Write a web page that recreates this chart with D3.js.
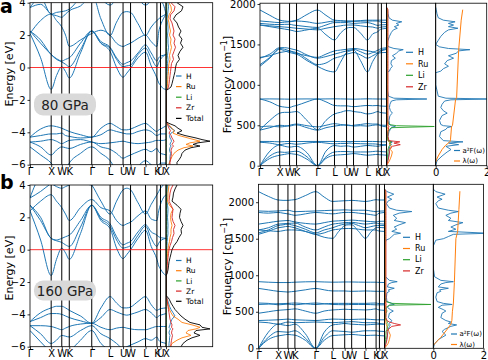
<!DOCTYPE html>
<html>
<head>
<meta charset="utf-8">
<script src="https://cdn.jsdelivr.net/npm/d3@7"></script>
<style>
body { margin: 0; background: #fff; }
svg { font-family: "DejaVu Sans", sans-serif; }
</style>
</head>
<body>
<svg id="fig" width="488" height="360"></svg>
<script>
// k-path (fcc): labels, tick positions and sample points
const kLabels = ['Γ','X','W','K','Γ','L','U','W','L','K','U','X'];
const kTicks = [0, 1, 1.5, 1.854, 2.914, 3.78, 4.392, 4.746, 5.453, 5.99, 6.16, 6.419];
const kPath = [0, 0.5, 1, 1.25, 1.5, 1.677, 1.854, 2.384, 2.914, 3.347, 3.78, 4.086, 4.392, 4.569, 4.746, 5.1, 5.453, 5.72, 5.99, 6.075, 6.16, 6.29, 6.419];

// electronic bands, 80 GPa (eV)
const bands80 = [
  [2.1, 0.6, -1.35, -0.5, 0.05, -0.25, -0.65, 0.9, 2.25, 1.5, 1.0, 0.0, -0.6, -0.35, -0.05, 0.6, 0.95, 0.1, -0.65, -0.95, -1.1, -1.3, -1.35],
  [2.25, 1.5, 0.8, 0.5, 0.35, 0.2, 0.05, 1.1, 2.25, 1.5, 1.2, 0.5, 0.05, 0.1, 0.15, 0.8, 1.2, 0.6, 0.05, 0.3, 0.5, 0.7, 0.8],
  [3.7, 4.3, 3.3, 3.4, 3.45, 3.5, 3.6, 4.3, 4.6, 3.0, 1.97, 2.8, 3.4, 3.45, 3.4, 2.7, 1.97, 2.5, 2.9, 3.0, 3.1, 3.2, 3.3],
  [2.25, 1.7, 0.8, 0.55, 0.4, 0.5, 0.6, 1.5, 2.25, 1.6, 1.25, 0.6, 0.2, 0.3, 0.4, 0.9, 1.4, 0.9, 0.4, 0.6, 0.7, 0.75, 0.8],
  [3.7, 3.9, 3.3, 3.2, 3.1, 3.3, 3.5, 3.8, 4.4, 4.2, 3.85, 4.2, 4.5, 4.5, 4.5, 4.2, 3.85, 4.1, 4.3, 4.2, 4.1, 3.9, 3.3],
  [2.1, 2.9, 3.3, 2.9, 2.5, 2.0, 1.3, 1.7, 2.1, 2.3, 2.0, 1.5, 1.3, 1.4, 1.5, 1.8, 2.0, 1.6, 1.3, 2.2, 2.6, 3.0, 3.3],
  [-4.3, -3.8, -3.6, -3.65, -3.75, -3.85, -3.95, -4.15, -4.3, -3.75, -3.45, -3.65, -3.85, -3.85, -3.8, -3.6, -3.45, -3.7, -3.95, -3.85, -3.8, -3.7, -3.6],
  [-4.3, -4.2, -4.1, -4.1, -4.05, -4.2, -4.25, -4.35, -4.3, -4.15, -3.85, -3.95, -4.05, -4.1, -4.1, -3.95, -3.85, -3.95, -4.2, -4.15, -4.1, -4.1, -4.1],
  [-4.6, -4.55, -4.45, -4.55, -4.7, -4.6, -4.5, -4.45, -4.6, -4.7, -4.65, -4.6, -4.55, -4.6, -4.65, -4.7, -4.65, -4.6, -4.5, -4.5, -4.5, -4.5, -4.45],
  [-4.6, -4.9, -5.4, -5.1, -4.9, -4.95, -5.0, -4.75, -4.6, -4.9, -5.05, -5.3, -5.6, -5.5, -5.4, -5.2, -5.05, -5.2, -5.0, -5.2, -5.3, -5.35, -5.4],
  [-4.9, -5.4, -5.9, -6.3, -6.5, -6.3, -5.9, -5.3, -4.9, -5.3, -5.75, -6.4, -6.8, -6.8, -6.6, -6.1, -5.75, -6.0, -6.2, -6.0, -5.9, -5.9, -5.9]
];

// electronic bands, 160 GPa (eV)
const bands160 = [
  [2.4, 0.6, -1.6, -0.6, 0.1, -0.2, -0.6, 1.0, 2.75, 1.8, 1.3, 0.1, -0.55, -0.3, 0.0, 0.7, 1.2, 0.2, -0.6, -1.0, -1.2, -1.45, -1.6],
  [2.75, 1.8, 0.7, 0.55, 0.45, 0.3, 0.2, 1.4, 2.75, 1.9, 1.45, 0.6, 0.1, 0.15, 0.25, 0.9, 1.45, 0.7, 0.2, 0.4, 0.55, 0.65, 0.7],
  [3.2, 4.4, 4.1, 3.9, 3.8, 3.9, 4.0, 4.5, 4.0, 3.0, 2.2, 3.0, 3.7, 3.8, 3.7, 2.9, 2.2, 2.8, 3.4, 3.6, 3.8, 4.0, 4.1],
  [2.75, 2.0, 0.7, 0.6, 0.7, 0.8, 0.9, 1.8, 2.75, 2.0, 1.6, 0.8, 0.3, 0.4, 0.5, 1.1, 1.55, 1.1, 0.9, 0.8, 0.75, 0.72, 0.7],
  [3.2, 3.6, 4.1, 4.3, 4.5, 4.4, 4.3, 4.2, 4.0, 4.4, 4.6, 4.6, 4.6, 4.6, 4.6, 4.6, 4.6, 4.5, 4.3, 4.2, 4.2, 4.1, 4.1],
  [2.4, 3.0, 3.4, 3.0, 2.6, 2.2, 1.8, 2.6, 3.1, 2.6, 2.4, 1.8, 1.5, 1.6, 1.7, 2.1, 2.4, 1.9, 1.8, 2.4, 2.8, 3.2, 3.4],
  [-4.45, -3.9, -3.6, -3.5, -3.5, -3.6, -3.75, -4.1, -4.55, -3.6, -2.9, -3.3, -3.6, -3.6, -3.55, -3.2, -2.9, -3.4, -3.75, -3.7, -3.65, -3.62, -3.6],
  [-4.45, -4.2, -3.95, -3.95, -4.0, -4.1, -4.2, -4.4, -4.55, -4.2, -3.7, -3.85, -4.0, -4.05, -4.0, -3.85, -3.7, -3.9, -4.2, -4.1, -4.05, -4.0, -3.95],
  [-4.7, -4.7, -4.75, -4.85, -4.95, -4.85, -4.75, -4.6, -4.55, -4.8, -4.95, -4.85, -4.8, -4.85, -4.9, -4.95, -4.95, -4.85, -4.75, -4.75, -4.75, -4.75, -4.75],
  [-4.7, -5.2, -5.8, -5.6, -5.3, -5.35, -5.4, -5.0, -4.7, -5.2, -5.5, -5.8, -6.1, -6.0, -5.9, -5.7, -5.5, -5.6, -5.4, -5.6, -5.7, -5.75, -5.8],
  [-5.0, -5.7, -6.4, -6.8, -7.0, -6.8, -6.4, -5.6, -5.0, -5.8, -6.3, -6.9, -7.3, -7.3, -7.1, -6.6, -6.3, -6.5, -6.7, -6.6, -6.5, -6.45, -6.4]
];

// electronic DOS, 80 GPa
const eDosE80 = [4, 3.75, 3.5, 3.25, 3, 2.75, 2.5, 2.25, 2, 1.75, 1.5, 1.25, 1, 0.75, 0.5, 0.25, 0, -0.25, -0.5, -0.75, -1, -1.2, -1.35, -1.4, -3.35, -3.45, -3.6, -3.75, -3.9, -4.05, -4.2, -4.35, -4.45, -4.55, -4.65, -4.75, -4.85, -4.95, -5.1, -5.3, -5.5, -5.7, -5.85, -6];
const eDosH80 = [0.2, 0.25, 0.2, 0.15, 0.1, 0.15, 0.2, 0.2, 0.15, 0.2, 0.2, 0.25, 0.2, 0.15, 0.2, 0.15, 0.12, 0.12, 0.1, 0.1, 0.08, 0.06, 0.03, 0, 0, 0.1, 0.3, 0.5, 0.9, 0.5, 0.35, 0.4, 0.5, 0.55, 0.45, 0.4, 0.5, 0.4, 0.35, 0.45, 0.4, 0.4, 0.35, 0.3];
const eDosRu80 = [0.3, 0.5, 0.55, 0.3, 0.2, 0.3, 0.35, 0.45, 0.35, 0.5, 0.45, 0.55, 0.45, 0.35, 0.4, 0.3, 0.25, 0.25, 0.2, 0.18, 0.15, 0.12, 0.05, 0, 0, 0.15, 0.4, 0.6, 0.8, 0.7, 1.3, 2.2, 2.8, 3.4, 2.4, 2.0, 2.7, 1.8, 1.2, 0.8, 0.6, 0.45, 0.35, 0.3];
const eDosLi80 = [0.06, 0.08, 0.06, 0.04, 0.03, 0.04, 0.04, 0.05, 0.04, 0.05, 0.04, 0.05, 0.04, 0.03, 0.03, 0.03, 0.02, 0.02, 0.02, 0.02, 0.01, 0.01, 0, 0, 0, 0, 0.01, 0.01, 0.02, 0.01, 0.02, 0.02, 0.03, 0.03, 0.02, 0.02, 0.03, 0.02, 0.02, 0.02, 0.02, 0.02, 0.01, 0.01];
const eDosZr80 = [0.5, 0.9, 0.8, 0.45, 0.4, 0.6, 0.7, 0.8, 0.7, 0.9, 0.8, 0.95, 0.8, 0.65, 0.75, 0.55, 0.5, 0.45, 0.4, 0.35, 0.3, 0.25, 0.1, 0, 0, 0.08, 0.2, 0.3, 0.45, 0.3, 0.5, 0.6, 0.7, 0.8, 0.7, 0.6, 0.75, 0.6, 0.5, 0.55, 0.5, 0.45, 0.4, 0.4];
const eDosTot80 = [1.1, 1.7, 1.55, 1.0, 0.75, 1.1, 1.25, 1.5, 1.3, 1.6, 1.45, 1.7, 1.4, 1.2, 1.35, 1.05, 0.95, 0.9, 0.8, 0.7, 0.6, 0.5, 0.2, 0, 0, 0.3, 0.9, 1.2, 1.6, 1.1, 1.9, 3.0, 3.6, 4.4, 3.2, 2.7, 3.4, 2.5, 1.9, 1.6, 1.5, 1.3, 1.1, 1.1];

// electronic DOS, 160 GPa
const eDosE160 = [4, 3.75, 3.5, 3.25, 3, 2.75, 2.5, 2.25, 2, 1.75, 1.5, 1.25, 1, 0.75, 0.5, 0.25, 0, -0.25, -0.5, -0.75, -1, -1.25, -1.5, -1.6, -2.85, -2.95, -3.1, -3.3, -3.5, -3.7, -3.9, -4.1, -4.3, -4.5, -4.65, -4.8, -4.9, -5.0, -5.15, -5.3, -5.45, -5.6, -5.8, -6];
const eDosH160 = [0.15, 0.12, 0.1, 0.1, 0.1, 0.15, 0.2, 0.18, 0.15, 0.18, 0.2, 0.18, 0.2, 0.15, 0.12, 0.1, 0.08, 0.07, 0.06, 0.05, 0.04, 0.03, 0.02, 0, 0, 0.08, 0.15, 0.25, 0.35, 0.5, 0.7, 0.9, 0.6, 0.45, 0.4, 0.3, 0.45, 0.35, 0.3, 0.4, 0.35, 0.35, 0.3, 0.3];
const eDosRu160 = [0.3, 0.25, 0.2, 0.2, 0.15, 0.35, 0.7, 0.5, 0.45, 0.5, 0.6, 0.5, 0.5, 0.4, 0.35, 0.25, 0.2, 0.15, 0.12, 0.1, 0.08, 0.06, 0.03, 0, 0, 0.05, 0.1, 0.15, 0.25, 0.35, 0.5, 0.7, 1.2, 1.6, 2.6, 3.4, 3.0, 2.2, 2.0, 2.5, 1.6, 1.1, 0.6, 0.4];
const eDosLi160 = [0.06, 0.06, 0.05, 0.05, 0.05, 0.06, 0.06, 0.06, 0.06, 0.06, 0.06, 0.06, 0.06, 0.05, 0.05, 0.05, 0.05, 0.05, 0.05, 0.04, 0.04, 0.04, 0.03, 0, 0, 0, 0.01, 0.01, 0.02, 0.02, 0.03, 0.03, 0.03, 0.03, 0.04, 0.04, 0.04, 0.03, 0.03, 0.03, 0.03, 0.03, 0.02, 0.02];
const eDosZr160 = [0.7, 0.5, 0.4, 0.35, 0.3, 0.5, 0.7, 0.65, 0.6, 0.7, 0.9, 0.75, 0.8, 0.65, 0.55, 0.4, 0.3, 0.25, 0.2, 0.15, 0.12, 0.1, 0.05, 0, 0, 0.05, 0.1, 0.15, 0.2, 0.25, 0.3, 0.35, 0.4, 0.5, 0.6, 0.55, 0.7, 0.6, 0.55, 0.65, 0.6, 0.55, 0.5, 0.5];
const eDosTot160 = [1.1, 0.9, 0.75, 0.7, 0.6, 1.1, 1.5, 1.4, 1.35, 1.5, 1.7, 1.5, 1.55, 1.3, 1.1, 0.8, 0.6, 0.5, 0.4, 0.3, 0.25, 0.2, 0.1, 0, 0, 0.2, 0.35, 0.5, 0.7, 0.9, 1.2, 1.5, 1.9, 2.4, 3.4, 3.6, 4.4, 3.0, 2.8, 3.4, 2.6, 2.1, 1.7, 1.5];

// phonon branches, 80 GPa (cm^-1)
const phon80 = [
  [0, 90, 130, 140, 150, 145, 140, 80, 0, 90, 130, 135, 140, 145, 150, 140, 130, 135, 140, 135, 135, 132, 130],
  [0, 120, 170, 165, 170, 175, 180, 110, 0, 110, 170, 175, 175, 172, 170, 170, 170, 175, 180, 176, 174, 172, 170],
  [0, 180, 255, 240, 230, 235, 240, 160, 0, 180, 250, 240, 245, 240, 230, 240, 250, 245, 240, 245, 248, 252, 255],
  [290, 280, 260, 270, 275, 270, 265, 280, 290, 280, 270, 275, 275, 280, 275, 272, 270, 270, 265, 262, 262, 260, 260],
  [300, 300, 295, 298, 300, 300, 298, 300, 300, 300, 300, 298, 298, 298, 300, 300, 300, 300, 298, 296, 296, 295, 295],
  [440, 470, 500, 495, 490, 500, 505, 470, 440, 470, 490, 500, 505, 500, 490, 495, 490, 500, 505, 502, 502, 500, 500],
  [480, 490, 480, 485, 500, 510, 515, 495, 480, 500, 520, 510, 500, 495, 500, 510, 520, 515, 515, 500, 490, 485, 480],
  [445, 560, 650, 660, 660, 665, 670, 560, 445, 560, 640, 660, 680, 680, 670, 660, 640, 650, 670, 660, 655, 652, 650],
  [825, 790, 735, 725, 720, 735, 745, 790, 825, 790, 745, 740, 740, 735, 730, 738, 745, 742, 745, 740, 738, 736, 735],
  [825, 826, 825, 824, 823, 824, 825, 826, 825, 826, 827, 826, 825, 824, 823, 825, 827, 826, 825, 825, 825, 825, 825],
  [1230, 1330, 1440, 1420, 1400, 1390, 1380, 1300, 1230, 1180, 1160, 1280, 1400, 1420, 1430, 1300, 1160, 1290, 1390, 1410, 1420, 1430, 1440],
  [1250, 1340, 1450, 1440, 1420, 1410, 1400, 1320, 1250, 1270, 1330, 1350, 1380, 1390, 1400, 1370, 1330, 1360, 1400, 1420, 1430, 1440, 1450],
  [1330, 1380, 1460, 1460, 1450, 1440, 1430, 1370, 1330, 1350, 1380, 1400, 1420, 1430, 1440, 1410, 1380, 1400, 1430, 1440, 1450, 1455, 1460],
  [1340, 1360, 1400, 1410, 1420, 1400, 1390, 1360, 1340, 1380, 1420, 1430, 1440, 1445, 1450, 1440, 1420, 1410, 1390, 1395, 1398, 1400, 1400],
  [1740, 1720, 1700, 1690, 1680, 1670, 1660, 1680, 1700, 1620, 1555, 1640, 1700, 1710, 1710, 1640, 1555, 1630, 1660, 1680, 1690, 1695, 1700],
  [1740, 1730, 1720, 1715, 1710, 1705, 1700, 1690, 1680, 1700, 1720, 1730, 1740, 1740, 1740, 1730, 1720, 1715, 1700, 1710, 1715, 1718, 1720],
  [1760, 1750, 1745, 1748, 1750, 1740, 1735, 1720, 1710, 1740, 1770, 1770, 1770, 1765, 1760, 1765, 1770, 1755, 1735, 1740, 1742, 1744, 1745],
  [1926, 1860, 1800, 1790, 1785, 1790, 1800, 1870, 1926, 1860, 1800, 1795, 1790, 1790, 1790, 1795, 1800, 1800, 1800, 1800, 1800, 1800, 1800],
  [1790, 1780, 1770, 1775, 1780, 1785, 1790, 1780, 1760, 1775, 1790, 1790, 1785, 1785, 1785, 1788, 1790, 1790, 1790, 1780, 1775, 1772, 1770]
];

// phonon branches, 160 GPa (cm^-1)
const phon160 = [
  [0, 120, 170, 180, 190, 185, 180, 110, 0, 110, 175, 180, 185, 188, 190, 182, 175, 178, 180, 176, 174, 172, 170],
  [0, 150, 230, 225, 220, 230, 240, 140, 0, 150, 240, 235, 230, 225, 220, 230, 240, 240, 240, 236, 234, 232, 230],
  [0, 220, 330, 320, 310, 320, 330, 200, 0, 220, 320, 330, 340, 335, 330, 325, 320, 325, 330, 330, 330, 330, 330],
  [360, 350, 330, 345, 360, 355, 350, 355, 360, 355, 350, 355, 360, 362, 365, 358, 350, 350, 350, 345, 340, 335, 330],
  [380, 385, 390, 395, 400, 395, 390, 385, 380, 390, 400, 398, 395, 395, 395, 398, 400, 395, 390, 390, 390, 390, 390],
  [480, 500, 520, 525, 530, 535, 540, 510, 480, 510, 525, 530, 535, 532, 530, 528, 525, 530, 540, 530, 525, 522, 520],
  [600, 605, 610, 612, 615, 618, 620, 610, 600, 608, 615, 615, 615, 615, 615, 615, 615, 618, 620, 615, 612, 611, 610],
  [620, 615, 595, 600, 605, 600, 595, 610, 620, 610, 600, 598, 596, 598, 600, 600, 600, 598, 595, 595, 595, 595, 595],
  [820, 800, 780, 775, 770, 775, 780, 800, 820, 800, 785, 785, 785, 782, 780, 782, 785, 783, 780, 780, 780, 780, 780],
  [912, 905, 900, 900, 900, 902, 905, 910, 912, 908, 905, 906, 908, 908, 908, 906, 905, 905, 905, 903, 902, 901, 900],
  [1560, 1600, 1650, 1660, 1670, 1660, 1650, 1600, 1560, 1520, 1505, 1600, 1680, 1690, 1690, 1600, 1505, 1590, 1650, 1655, 1655, 1652, 1650],
  [1580, 1620, 1680, 1690, 1700, 1690, 1680, 1630, 1580, 1620, 1650, 1680, 1700, 1705, 1710, 1680, 1650, 1665, 1680, 1682, 1682, 1681, 1680],
  [1620, 1650, 1700, 1705, 1710, 1712, 1715, 1660, 1620, 1660, 1700, 1710, 1720, 1722, 1725, 1712, 1700, 1708, 1715, 1710, 1705, 1702, 1700],
  [1700, 1720, 1740, 1745, 1750, 1740, 1730, 1710, 1700, 1720, 1740, 1745, 1750, 1752, 1755, 1748, 1740, 1735, 1730, 1735, 1738, 1739, 1740],
  [1860, 1850, 1860, 1850, 1840, 1830, 1820, 1840, 1860, 1850, 1840, 1850, 1860, 1860, 1860, 1850, 1840, 1830, 1820, 1840, 1850, 1855, 1860],
  [1880, 1875, 1880, 1885, 1890, 1880, 1870, 1875, 1880, 1885, 1890, 1892, 1895, 1893, 1890, 1890, 1890, 1880, 1870, 1875, 1878, 1879, 1880],
  [2145, 2080, 2030, 2025, 2025, 2030, 2035, 2090, 2145, 2070, 2010, 2015, 2020, 2022, 2025, 2018, 2010, 2020, 2035, 2032, 2030, 2030, 2030],
  [1620, 1610, 1600, 1610, 1620, 1620, 1620, 1600, 1560, 1580, 1620, 1630, 1640, 1640, 1640, 1630, 1620, 1620, 1620, 1610, 1605, 1602, 1600]
];

// phonon DOS and Eliashberg function, 80 GPa
const pFreq80 = [0, 60, 120, 170, 200, 240, 260, 280, 295, 310, 360, 420, 450, 470, 485, 495, 510, 560, 620, 650, 680, 720, 760, 800, 815, 825, 835, 860, 1000, 1150, 1170, 1200, 1230, 1260, 1300, 1330, 1360, 1390, 1420, 1435, 1450, 1470, 1500, 1550, 1600, 1650, 1680, 1700, 1720, 1740, 1760, 1780, 1800, 1830, 1880, 1930, 1960];
const pDosH80 = [0, 0.02, 0.04, 0.06, 0.05, 0.07, 0.1, 0.08, 0.12, 0.04, 0.03, 0.05, 0.08, 0.1, 0.18, 0.1, 0.06, 0.05, 0.07, 0.12, 0.08, 0.06, 0.07, 0.1, 0.2, 0.82, 0.15, 0.04, 0, 0, 0.06, 0.08, 0.12, 0.09, 0.1, 0.18, 0.12, 0.2, 0.25, 0.34, 0.15, 0.05, 0, 0.03, 0.06, 0.1, 0.14, 0.22, 0.16, 0.25, 0.2, 0.31, 0.12, 0.05, 0.03, 0.02, 0];
const pDosRu80 = [0, 0.06, 0.1, 0.12, 0.08, 0.1, 0.06, 0.08, 0.05, 0.03, 0.02, 0.02, 0.03, 0.02, 0.03, 0.02, 0.02, 0.02, 0.02, 0.02, 0.02, 0.02, 0.02, 0.02, 0.02, 0.03, 0.02, 0.02, 0.02, 0.02, 0.02, 0.02, 0.02, 0.02, 0.02, 0.02, 0.02, 0.02, 0.02, 0.02, 0.02, 0.02, 0.02, 0.02, 0.02, 0.02, 0.02, 0.02, 0.02, 0.02, 0.02, 0.02, 0.02, 0.02, 0.02, 0.02, 0];
const pDosLi80 = [0, 0.01, 0.02, 0.03, 0.03, 0.05, 0.08, 0.06, 0.1, 0.03, 0.02, 0.03, 0.06, 0.1, 0.97, 0.2, 0.05, 0.02, 0.01, 0.01, 0.01, 0.01, 0.01, 0.01, 0.01, 0.01, 0.01, 0.01, 0.01, 0.01, 0.01, 0.01, 0.01, 0.01, 0.01, 0.01, 0.01, 0.01, 0.01, 0.01, 0.01, 0.01, 0.01, 0.01, 0.01, 0.01, 0.01, 0.01, 0.01, 0.01, 0.01, 0.01, 0.01, 0.01, 0.01, 0.01, 0];
const pDosZr80 = [0, 0.03, 0.05, 0.06, 0.05, 0.12, 0.28, 0.15, 0.27, 0.05, 0.03, 0.03, 0.04, 0.04, 0.05, 0.04, 0.03, 0.03, 0.03, 0.03, 0.03, 0.03, 0.03, 0.03, 0.03, 0.03, 0.03, 0.03, 0.03, 0.03, 0.03, 0.03, 0.03, 0.03, 0.03, 0.03, 0.03, 0.03, 0.03, 0.03, 0.03, 0.03, 0.03, 0.03, 0.03, 0.03, 0.03, 0.03, 0.03, 0.03, 0.03, 0.03, 0.03, 0.03, 0.03, 0.03, 0];
const a2F80 = [0, 0.05, 0.25, 0.45, 0.6, 0.4, 0.9, 0.5, 1.07, 0.3, 0.15, 0.2, 0.4, 0.45, 0.63, 0.3, 0.2, 0.15, 0.25, 0.45, 0.3, 0.2, 0.25, 0.35, 0.6, 2.2, 0.4, 0.1, 0, 0, 0.2, 0.3, 0.5, 0.35, 0.45, 0.7, 0.5, 0.8, 0.9, 1.34, 0.5, 0.15, 0, 0.1, 0.2, 0.35, 0.5, 0.87, 0.5, 0.7, 0.5, 0.76, 0.3, 0.1, 0.05, 0.02, 0];
const lamFreq80 = [40, 80, 120, 200, 250, 280, 300, 320, 480, 500, 820, 840, 1430, 1800, 1930];
const lam80 = [0, 0.04, 0.1, 0.25, 0.38, 0.5, 0.56, 0.58, 0.62, 0.66, 0.78, 0.82, 0.9, 1.0, 1.06];

// phonon DOS and Eliashberg function, 160 GPa
const pFreq160 = [0, 60, 120, 180, 230, 260, 300, 320, 340, 360, 380, 420, 480, 510, 530, 560, 590, 600, 615, 640, 700, 760, 780, 800, 822, 840, 880, 900, 912, 930, 980, 1100, 1400, 1480, 1500, 1530, 1560, 1575, 1600, 1630, 1660, 1690, 1720, 1750, 1780, 1820, 1850, 1872, 1890, 1920, 1980, 2020, 2040, 2070, 2110, 2145, 2180];
const pDosH160 = [0, 0.02, 0.04, 0.06, 0.07, 0.08, 0.1, 0.12, 0.09, 0.13, 0.15, 0.08, 0.1, 0.18, 0.12, 0.06, 0.1, 0.2, 0.15, 0.05, 0.04, 0.05, 0.1, 0.08, 0.2, 0.06, 0.08, 0.15, 0.26, 0.1, 0.02, 0, 0, 0.03, 0.1, 0.15, 0.2, 0.33, 0.15, 0.25, 0.2, 0.3, 0.43, 0.2, 0.25, 0.18, 0.3, 0.56, 0.25, 0.1, 0.04, 0.08, 0.15, 0.06, 0.19, 0.05, 0];
const pDosRu160 = [0, 0.07, 0.1, 0.12, 0.09, 0.06, 0.05, 0.04, 0.03, 0.03, 0.02, 0.02, 0.02, 0.02, 0.02, 0.02, 0.02, 0.03, 0.02, 0.02, 0.02, 0.02, 0.02, 0.02, 0.02, 0.02, 0.02, 0.02, 0.02, 0.02, 0.02, 0.02, 0.02, 0.02, 0.02, 0.02, 0.02, 0.02, 0.02, 0.02, 0.02, 0.02, 0.02, 0.02, 0.02, 0.02, 0.02, 0.02, 0.02, 0.02, 0.02, 0.02, 0.02, 0.02, 0.02, 0.02, 0];
const pDosLi160 = [0, 0.01, 0.02, 0.03, 0.03, 0.05, 0.06, 0.08, 0.05, 0.06, 0.04, 0.02, 0.03, 0.05, 0.04, 0.03, 0.1, 0.95, 0.15, 0.03, 0.01, 0.01, 0.01, 0.01, 0.01, 0.01, 0.01, 0.01, 0.01, 0.01, 0.01, 0.01, 0.01, 0.01, 0.01, 0.01, 0.01, 0.01, 0.01, 0.01, 0.01, 0.01, 0.01, 0.01, 0.01, 0.01, 0.01, 0.01, 0.01, 0.01, 0.01, 0.01, 0.01, 0.01, 0.01, 0.01, 0];
const pDosZr160 = [0, 0.03, 0.05, 0.06, 0.05, 0.08, 0.15, 0.33, 0.2, 0.1, 0.05, 0.03, 0.03, 0.03, 0.03, 0.03, 0.03, 0.03, 0.03, 0.03, 0.03, 0.03, 0.03, 0.03, 0.03, 0.03, 0.03, 0.03, 0.03, 0.03, 0.03, 0.03, 0.03, 0.03, 0.03, 0.03, 0.03, 0.03, 0.03, 0.03, 0.03, 0.03, 0.03, 0.03, 0.03, 0.03, 0.03, 0.03, 0.03, 0.03, 0.03, 0.03, 0.03, 0.03, 0.03, 0.03, 0];
const a2F160 = [0, 0.05, 0.2, 0.5, 0.35, 0.45, 0.7, 0.93, 0.6, 0.7, 0.5, 0.3, 0.35, 0.5, 0.4, 0.2, 0.35, 0.75, 0.4, 0.15, 0.1, 0.15, 0.3, 0.25, 0.6, 0.2, 0.3, 0.5, 0.8, 0.3, 0.05, 0, 0, 0.1, 0.4, 0.6, 0.8, 2.2, 0.6, 0.9, 0.7, 0.9, 1.18, 0.6, 0.7, 0.5, 0.7, 1.0, 0.6, 0.2, 0.1, 0.2, 0.35, 0.15, 0.47, 0.1, 0];
const lamFreq160 = [40, 60, 150, 250, 330, 380, 500, 620, 900, 1500, 1600, 1900, 2150];
const lam160 = [0, 0.05, 0.3, 0.53, 0.7, 0.74, 0.76, 0.8, 0.84, 0.9, 0.97, 1.02, 1.06];

const species = ['H', 'Ru', 'Li', 'Zr'];
const colors = {H: '#1f77b4', Ru: '#ff7f0e', Li: '#2ca02c', Zr: '#d62728', Total: '#000000'};

const svg = d3.select('#fig');

class BandPanel {
    constructor(config) {
        this.config = config;
        this.init();
        this.render();
    }

    init() {
        let self = this;
        let c = self.config;
        self.g = svg.append('g').attr('transform', `translate(${c.left},${c.top})`);
        self.xscale = d3.scaleLinear().domain([0, kTicks[kTicks.length - 1]]).range([0, c.width]);
        self.yscale = d3.scaleLinear().domain([-6, 4]).range([c.height, 0]);
        self.dscale = d3.scaleLinear().domain([0, 4.67]).range([c.width, c.width + c.dosWidth]);

        const defs = self.g.append('defs');
        defs.append('clipPath').attr('id', c.id + 'b')
            .append('rect').attr('width', c.width).attr('height', c.height);
        defs.append('clipPath').attr('id', c.id + 'd')
            .append('rect').attr('x', c.width).attr('width', c.dosWidth).attr('height', c.height);
    }

    render() {
        let self = this;
        let c = self.config;

        const bandLine = d3.line()
            .x((d, i) => self.xscale(kPath[i]))
            .y(d => self.yscale(d))
            .curve(d3.curveMonotoneX);

        self.g.append('g').attr('clip-path', `url(#${c.id}b)`)
            .selectAll('path').data(c.bands).join('path')
            .attr('d', bandLine)
            .attr('fill', 'none').attr('stroke', '#1f77b4').attr('stroke-width', 1);

        // high-symmetry lines
        self.g.selectAll('line.hs').data(kTicks.slice(1, -1)).join('line')
            .attr('class', 'hs')
            .attr('x1', d => self.xscale(d)).attr('x2', d => self.xscale(d))
            .attr('y1', 0).attr('y2', c.height)
            .attr('stroke', '#000').attr('stroke-width', 1);

        // Fermi level
        self.g.append('line')
            .attr('x1', 0).attr('x2', c.width + c.dosWidth)
            .attr('y1', self.yscale(0)).attr('y2', self.yscale(0))
            .attr('stroke', '#ff0000').attr('stroke-width', 0.8);

        const dosLine = d3.line()
            .x(d => self.dscale(d))
            .y((d, i) => self.yscale(c.dosE[i]));

        const dosG = self.g.append('g').attr('clip-path', `url(#${c.id}d)`);
        species.concat(['Total']).forEach(s => {
            dosG.append('path').datum(c.dos[s])
                .attr('d', dosLine)
                .attr('fill', 'none').attr('stroke', colors[s]).attr('stroke-width', 0.9);
        });

        // frames
        self.g.append('rect').attr('width', c.width).attr('height', c.height)
            .attr('fill', 'none').attr('stroke', '#000').attr('stroke-width', 0.8);
        self.g.append('rect').attr('x', c.width).attr('width', c.dosWidth).attr('height', c.height)
            .attr('fill', 'none').attr('stroke', '#000').attr('stroke-width', 0.8);

        const yaxis = d3.axisLeft(self.yscale).tickValues([-6, -4, -2, 0, 2, 4])
            .tickSize(2.5).tickPadding(2).tickFormat(d3.format('d'));
        const yg = self.g.append('g').call(yaxis);
        yg.select('.domain').remove();

        const xaxis = d3.axisBottom(self.xscale).tickValues(kTicks)
            .tickSize(2.5).tickPadding(1).tickFormat((d, i) => kLabels[i]);
        const xg = self.g.append('g').attr('transform', `translate(0,${c.height})`).call(xaxis);
        xg.select('.domain').remove();

        [yg, xg].forEach(a => {
            a.attr('font-family', '"DejaVu Sans", sans-serif').attr('font-size', 10);
            a.selectAll('line').attr('stroke-width', 0.8);
            a.selectAll('text').attr('fill', '#000');
        });

        // legend
        const leg = self.g.append('g')
            .attr('transform', `translate(${c.legX - c.left},${c.legY - c.top})`);
        species.concat(['Total']).forEach((s, i) => {
            leg.append('line').attr('x1', 0).attr('x2', 5.5)
                .attr('y1', i * c.legStep).attr('y2', i * c.legStep)
                .attr('stroke', colors[s]).attr('stroke-width', 1.2);
            leg.append('text').attr('x', 10).attr('y', i * c.legStep)
                .attr('dy', '0.35em').attr('font-size', 7.5).text(s);
        });
    }
}

class PhononPanel {
    constructor(config) {
        this.config = config;
        this.init();
        this.render();
    }

    init() {
        let self = this;
        let c = self.config;
        self.g = svg.append('g').attr('transform', `translate(${c.left},${c.top})`);
        self.x0 = c.width + c.dosWidth;
        self.xscale = d3.scaleLinear().domain([0, kTicks[kTicks.length - 1]]).range([0, c.width]);
        self.yscale = d3.scaleLinear().domain([0, c.fmax]).range([c.height, 0]);
        self.pscale = d3.scaleLinear().domain([0, 1]).range([c.width, self.x0]);
        self.ascale = d3.scaleLinear().domain([0, 2]).range([self.x0, self.x0 + c.a2fWidth]);

        const defs = self.g.append('defs');
        defs.append('clipPath').attr('id', c.id + 'p')
            .append('rect').attr('width', c.width).attr('height', c.height);
        defs.append('clipPath').attr('id', c.id + 'q')
            .append('rect').attr('x', c.width).attr('width', c.dosWidth).attr('height', c.height);
        defs.append('clipPath').attr('id', c.id + 'r')
            .append('rect').attr('x', self.x0).attr('width', c.a2fWidth).attr('height', c.height);
    }

    render() {
        let self = this;
        let c = self.config;

        const branchLine = d3.line()
            .x((d, i) => self.xscale(kPath[i]))
            .y(d => self.yscale(d))
            .curve(d3.curveMonotoneX);

        self.g.append('g').attr('clip-path', `url(#${c.id}p)`)
            .selectAll('path').data(c.branches).join('path')
            .attr('d', branchLine)
            .attr('fill', 'none').attr('stroke', '#1f77b4').attr('stroke-width', 1);

        self.g.selectAll('line.hs').data(kTicks.slice(1, -1)).join('line')
            .attr('class', 'hs')
            .attr('x1', d => self.xscale(d)).attr('x2', d => self.xscale(d))
            .attr('y1', 0).attr('y2', c.height)
            .attr('stroke', '#000').attr('stroke-width', 1);

        const dosLine = d3.line()
            .x(d => self.pscale(d))
            .y((d, i) => self.yscale(c.freq[i]));
        const dosG = self.g.append('g').attr('clip-path', `url(#${c.id}q)`);
        species.forEach(s => {
            dosG.append('path').datum(c.dos[s])
                .attr('d', dosLine)
                .attr('fill', 'none').attr('stroke', colors[s]).attr('stroke-width', 0.9);
        });

        const aG = self.g.append('g').attr('clip-path', `url(#${c.id}r)`);
        aG.append('path').datum(c.a2F)
            .attr('d', d3.line().x(d => self.ascale(d)).y((d, i) => self.yscale(c.freq[i])))
            .attr('fill', 'none').attr('stroke', colors.H).attr('stroke-width', 0.9);
        aG.append('path').datum(c.lam)
            .attr('d', d3.line().x(d => self.ascale(d)).y((d, i) => self.yscale(c.lamFreq[i])))
            .attr('fill', 'none').attr('stroke', colors.Ru).attr('stroke-width', 1);

        [[0, c.width], [c.width, c.dosWidth], [self.x0, c.a2fWidth]].forEach(r => {
            self.g.append('rect').attr('x', r[0]).attr('width', r[1]).attr('height', c.height)
                .attr('fill', 'none').attr('stroke', '#000').attr('stroke-width', 0.8);
        });

        const yaxis = d3.axisLeft(self.yscale).tickValues([0, 500, 1000, 1500, 2000])
            .tickSize(2.5).tickPadding(2).tickFormat(d3.format('d'));
        const yg = self.g.append('g').call(yaxis);
        yg.select('.domain').remove();

        const xaxis = d3.axisBottom(self.xscale).tickValues(kTicks)
            .tickSize(2.5).tickPadding(1).tickFormat((d, i) => kLabels[i]);
        const xg = self.g.append('g').attr('transform', `translate(0,${c.height})`).call(xaxis);
        xg.select('.domain').remove();

        const aaxis = d3.axisBottom(self.ascale).tickValues([0, 2])
            .tickSize(2.5).tickPadding(1).tickFormat(d3.format('d'));
        const ag = self.g.append('g').attr('transform', `translate(0,${c.height})`).call(aaxis);
        ag.select('.domain').remove();

        [yg, xg, ag].forEach(a => {
            a.attr('font-family', '"DejaVu Sans", sans-serif').attr('font-size', 10);
            a.selectAll('line').attr('stroke-width', 0.8);
            a.selectAll('text').attr('fill', '#000');
        });

        // species legend
        const leg = self.g.append('g')
            .attr('transform', `translate(${c.legX - c.left},${c.legY - c.top})`);
        species.forEach((s, i) => {
            leg.append('line').attr('x1', 0).attr('x2', 7)
                .attr('y1', i * c.legStep).attr('y2', i * c.legStep)
                .attr('stroke', colors[s]).attr('stroke-width', 1.2);
            leg.append('text').attr('x', 12).attr('y', i * c.legStep)
                .attr('dy', '0.35em').attr('font-size', 8).text(s);
        });

        // a2F legend
        const leg2 = self.g.append('g')
            .attr('transform', `translate(${c.leg2X - c.left},${c.leg2Y - c.top})`);
        [['a²F(ω)', colors.H], ['λ(ω)', colors.Ru]].forEach((e, i) => {
            leg2.append('line').attr('x1', 0).attr('x2', 6)
                .attr('y1', i * 10.5).attr('y2', i * 10.5)
                .attr('stroke', e[1]).attr('stroke-width', 1.2);
            leg2.append('text').attr('x', 8.5).attr('y', i * 10.5)
                .attr('dy', '0.35em').attr('font-size', 7).text(e[0]);
        });
    }
}

new BandPanel({
    id: 'ea', left: 30, top: 2.7, width: 136, dosWidth: 46.7, height: 162,
    bands: bands80, dosE: eDosE80,
    dos: {H: eDosH80, Ru: eDosRu80, Li: eDosLi80, Zr: eDosZr80, Total: eDosTot80},
    legX: 176, legY: 76, legStep: 10.6
});
new BandPanel({
    id: 'eb', left: 30, top: 185, width: 136, dosWidth: 46.7, height: 161.7,
    bands: bands160, dosE: eDosE160,
    dos: {H: eDosH160, Ru: eDosRu160, Li: eDosLi160, Zr: eDosZr160, Total: eDosTot160},
    legX: 176, legY: 260.5, legStep: 10.2
});
new PhononPanel({
    id: 'pa', left: 260, top: 3.2, width: 126.5, dosWidth: 49.2, a2fWidth: 51, height: 162.5, fmax: 2010,
    branches: phon80, freq: pFreq80,
    dos: {H: pDosH80, Ru: pDosRu80, Li: pDosLi80, Zr: pDosZr80},
    a2F: a2F80, lam: lam80, lamFreq: lamFreq80,
    legX: 406, legY: 52.3, legStep: 11.5, leg2X: 454, leg2Y: 150.5
});
new PhononPanel({
    id: 'pb', left: 258.5, top: 184.3, width: 126, dosWidth: 48.8, a2fWidth: 50.2, height: 164, fmax: 2245,
    branches: phon160, freq: pFreq160,
    dos: {H: pDosH160, Ru: pDosRu160, Li: pDosLi160, Zr: pDosZr160},
    a2F: a2F160, lam: lam160, lamFreq: lamFreq160,
    legX: 403, legY: 237.3, legStep: 11.2, leg2X: 451, leg2Y: 334
});

// pressure tags
[{x: 34, y: 93.5, h: 22, yt: 110, t: '80 GPa'}, {x: 34, y: 280.5, h: 20, yt: 295.5, t: '160 GPa'}].forEach(p => {
    svg.append('rect').attr('x', p.x).attr('y', p.y).attr('width', 62).attr('height', p.h)
        .attr('rx', 9).attr('fill', '#d9d9d9');
    svg.append('text').attr('x', p.x + 31).attr('y', p.yt).attr('text-anchor', 'middle')
        .attr('font-size', 13.5).attr('fill', '#222').text(p.t);
});

// panel letters
svg.append('text').attr('x', 0).attr('y', 13).attr('font-size', 19).attr('font-weight', 'bold').text('a');
svg.append('text').attr('x', 0).attr('y', 189).attr('font-size', 19).attr('font-weight', 'bold').text('b');

// axis titles
[74, 268].forEach(cy => {
    svg.append('text').attr('transform', `translate(13,${cy}) rotate(-90)`)
        .attr('text-anchor', 'middle').attr('font-size', 11).text('Energy [eV]');
});
[84.5, 266.5].forEach(cy => {
    const t = svg.append('text').attr('transform', `translate(231,${cy}) rotate(-90)`)
        .attr('text-anchor', 'middle').attr('font-size', 11);
    t.append('tspan').text('Frequency [cm');
    t.append('tspan').attr('dy', -4).attr('font-size', 8).text('−1');
    t.append('tspan').attr('dy', 4).text(']');
});
</script>
</body>
</html>
